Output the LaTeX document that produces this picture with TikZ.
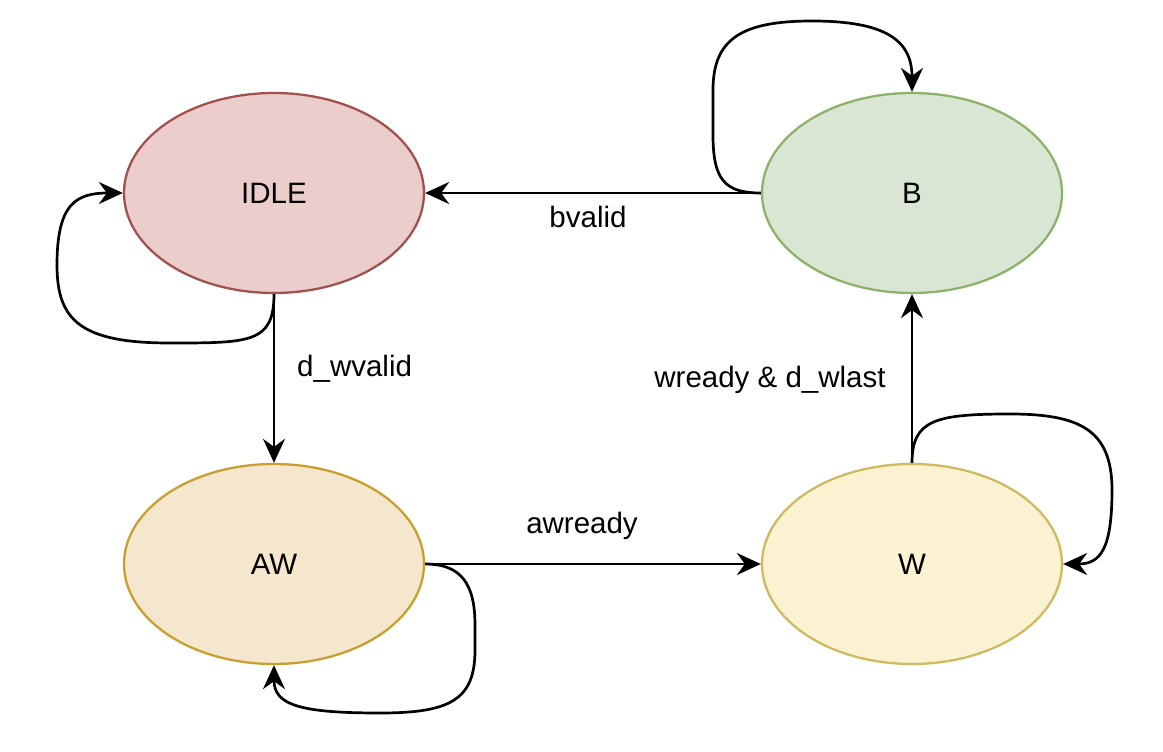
\documentclass[tikz,border=0pt]{standalone}
\usepackage{fontspec}
\setmainfont{Liberation Sans}
\usetikzlibrary{arrows.meta,shapes.geometric}
\definecolor{idlefill}{HTML}{EBCECC}
\definecolor{idledraw}{HTML}{A2524E}
\definecolor{bfill}{HTML}{DAE6D4}
\definecolor{bdraw}{HTML}{8CB36C}
\definecolor{awfill}{HTML}{F5E6CE}
\definecolor{awdraw}{HTML}{C9A030}
\definecolor{wfill}{HTML}{FAF2D0}
\definecolor{wdraw}{HTML}{CFBA64}
\tikzset{
  state/.style={ellipse, minimum width=300pt, minimum height=200pt, line width=2.3pt, inner sep=0pt, font=\fontsize{29.5}{34}\selectfont},
  edge/.style={line width=2.7pt, -{Stealth[length=24pt,width=22pt,inset=8pt]}},
  lbl/.style={font=\fontsize{29.5}{34}\selectfont, inner sep=0pt}
}
\begin{document}
\begin{tikzpicture}[x=1pt,y=-1pt]
\useasboundingbox (0,0) rectangle (1163,752);
\node[state, fill=idlefill, draw=idledraw] (IDLE) at (274,193) {IDLE};
\node[state, fill=bfill, draw=bdraw] (B) at (912,193) {B};
\node[state, fill=awfill, draw=awdraw] (AW) at (274,564) {AW};
\node[state, fill=wfill, draw=wdraw] (W) at (912,564) {W};

\draw[edge] (B.west) -- (IDLE.east);
\draw[edge] (IDLE.south) -- (AW.north);
\draw[edge] (AW.east) -- (W.west);
\draw[edge] (W.north) -- (B.south);

\draw[edge] (IDLE.south) .. controls (274,343) and (250,343) .. (170,343)
  .. controls (80,343) and (57,320) .. (57,265)
  .. controls (57,205) and (75,193) .. (IDLE.west);
\draw[edge] (B.west) .. controls (725,193) and (713,180) .. (713,135)
  -- (713,90) .. controls (713,40) and (740,21) .. (812,21)
  .. controls (885,21) and (912,40) .. (B.north);
\draw[edge] (AW.east) .. controls (462,564) and (475,585) .. (475,625)
  -- (475,650) .. controls (475,700) and (450,713) .. (380,713)
  .. controls (300,713) and (274,705) .. (AW.south);
\draw[edge] (W.north) .. controls (912,420) and (935,414) .. (1010,414)
  .. controls (1080,414) and (1112,430) .. (1112,490)
  .. controls (1112,550) and (1100,564) .. (W.east);

\node[lbl] (lb) at (588,217) {bvalid};
\node[lbl, anchor=west] (ld) at (297,369) {d\_wvalid};
\node[lbl] (lw) at (770,380) {wready \& d\_wlast};
\node[lbl] (la) at (582,526) {awready};
\end{tikzpicture}
\end{document}
